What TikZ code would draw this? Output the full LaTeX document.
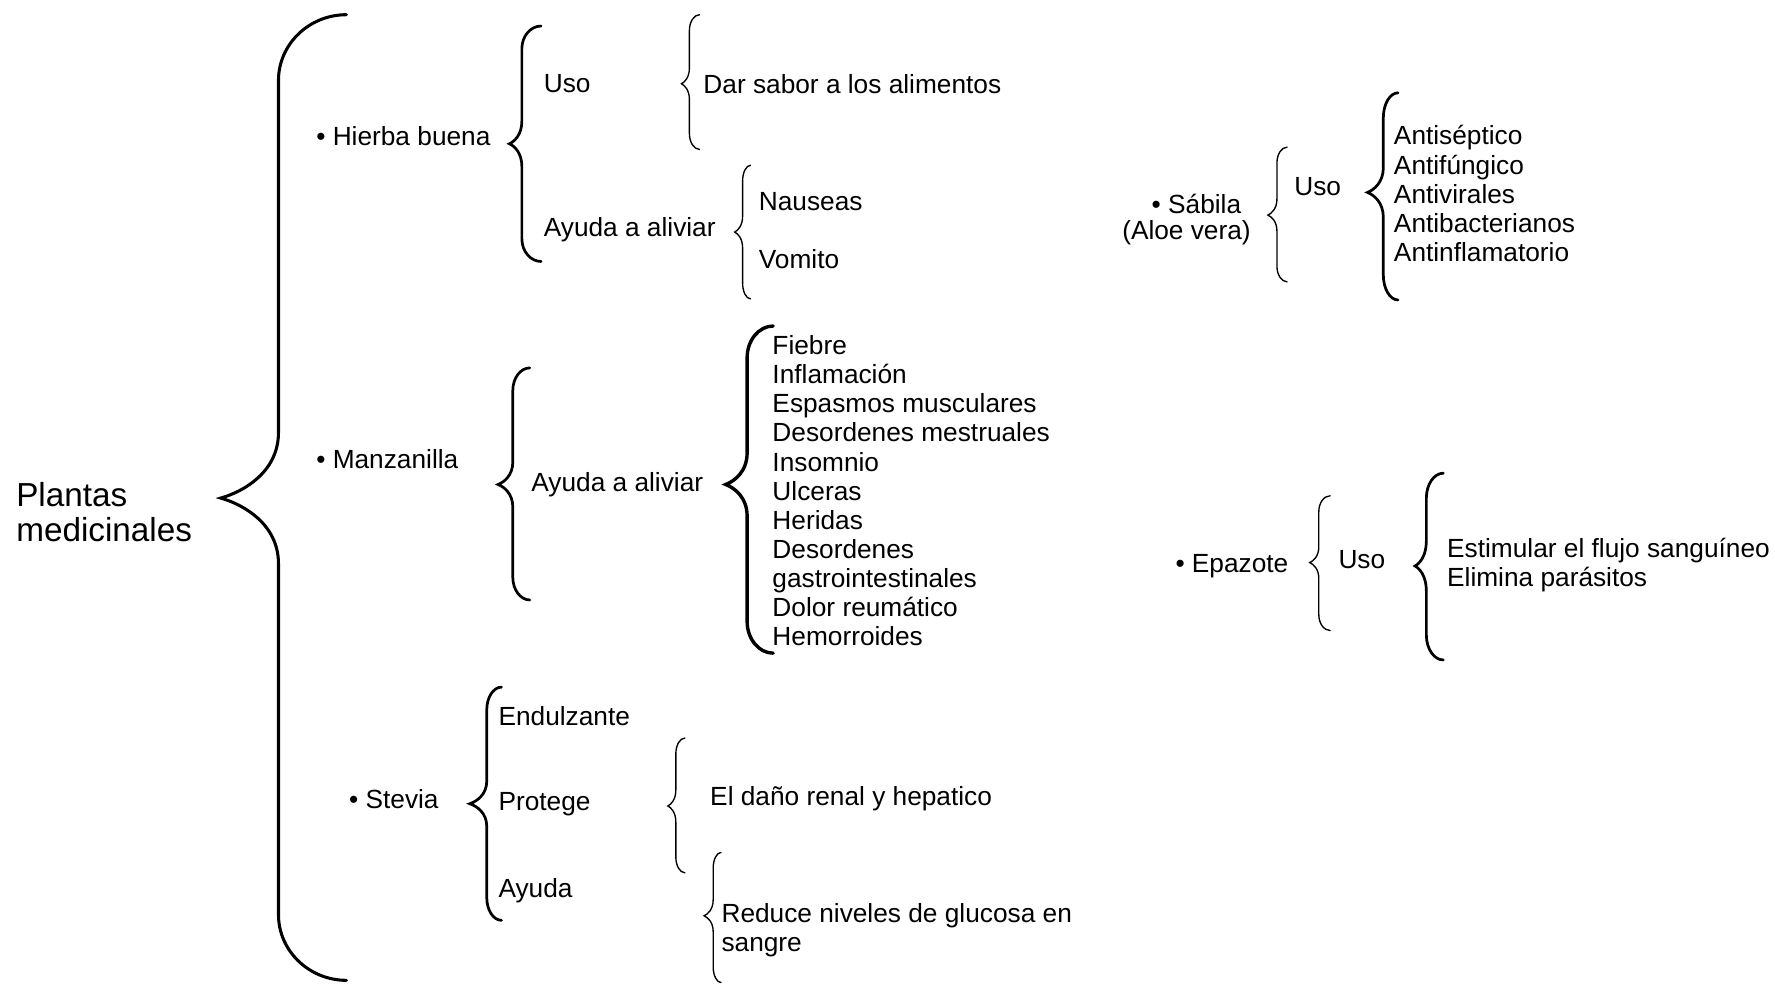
\documentclass[tikz,border=0pt]{standalone}
\usepackage{fontspec}
\setmainfont{Liberation Sans}
\usepackage{tikz}
\usetikzlibrary{positioning,calc}

% brace opening to the right: [style]{x end}{x line}{x tip}{y top}{y tip}{y bottom}{radius}
\newcommand{\llave}[8][]{%
  \draw[#1] (#2,#5) .. controls ({#3+0.45*(#2-#3)},#5) and (#3,{#5+0.45*#8}) .. (#3,{#5+#8})
    -- (#3,{#6-#8}) .. controls (#3,{#6-0.4*#8}) and ({#4+0.4*(#3-#4)},{#6-0.1*#8}) .. (#4,#6)
    .. controls ({#4+0.4*(#3-#4)},{#6+0.1*#8}) and (#3,{#6+0.4*#8}) .. (#3,{#6+#8})
    -- (#3,{#7-#8}) .. controls (#3,{#7-0.45*#8}) and ({#3+0.45*(#2-#3)},#7) .. (#2,#7);
}

\tikzset{
  txt/.style={inner sep=0pt, anchor=west, align=left, font=\fontsize{11.6}{12.85}\selectfont},
  titulo/.style={inner sep=0pt, anchor=west, align=left, font=\fontsize{14.7}{15.5}\selectfont},
  fina/.style={line width=0.6pt, line cap=round},
  gruesa/.style={line width=1.2pt, line cap=round},
}

\begin{document}
\begin{tikzpicture}[x=0.5pt, y=-0.5pt]
    \useasboundingbox (0,0) rectangle (1568,870);

    % Title
    \node[titulo] (plantas) at (14,452) {Plantas\\medicinales};
    \llave[gruesa, line width=1.35pt]{306}{246}{195}{13}{440}{866}{58}

    % Hierba buena
    \node[txt] (hierba) at (279,120) {• Hierba buena};
    \llave[gruesa]{478}{461}{450}{23}{127}{231}{20}
    \node[txt] (uso1) at (480,74) {Uso};
    \node[txt] (ayuda1) at (480,203) {Ayuda a aliviar};
    \llave[fina]{618}{609}{602}{13}{74}{132}{14}
    \node[txt] (sabor) at (621,74) {Dar sabor a los alimentos};
    \llave[fina]{663}{656}{649}{146}{205}{264}{14}
    \node[txt] (nauseas) at (670,178) {Nauseas};
    \node[txt] (vomito) at (670,229) {Vomito};

    % Manzanilla
    \node[txt] (manzanilla) at (279,406) {• Manzanilla};
    \llave[gruesa]{468}{453}{440}{325}{428}{530}{20}
    \node[txt] (ayuda2) at (469,428) {Ayuda a aliviar};
    \llave[gruesa, line width=1.5pt]{683}{660}{641}{288}{428}{577}{28}
    \node[txt] (males) at (682,433.5) {Fiebre\\Inflamación\\Espasmos musculares\\Desordenes mestruales\\Insomnio\\Ulceras\\Heridas\\Desordenes\\gastrointestinales\\Dolor reumático\\Hemorroides};

    % Stevia
    \node[txt] (stevia) at (308,706) {• Stevia};
    \llave[gruesa]{443}{430}{415}{607}{710}{813}{20}
    \node[txt] (endulzante) at (440,633) {Endulzante};
    \node[txt] (protege) at (440,710) {Protege};
    \node[txt] (ayuda3) at (440,787) {Ayuda};
    \llave[fina]{605}{597}{590}{652}{712}{771}{14}
    \node[txt] (dano) at (627,706) {El daño renal y hepatico};
    \llave[fina]{637}{630}{622}{753}{809}{868}{14}
    \node[txt] (glucosa) at (637,822) {Reduce niveles de glucosa en\\sangre};

    % Sabila
    \node[txt] (sabila) at (1017,180) {• Sábila};
    \node[txt] (aloe) at (991,206) {(Aloe vera)};
    \llave[fina]{1137}{1128}{1120}{130}{190}{249}{14}
    \node[txt] (uso2) at (1143,165) {Uso};
    \llave[gruesa]{1235}{1222}{1208}{82}{170}{265}{22}
    \node[txt] (anti) at (1231,171) {Antiséptico\\Antifúngico\\Antivirales\\Antibacterianos\\Antinflamatorio};

    % Epazote
    \node[txt] (epazote) at (1038,500) {• Epazote};
    \llave[fina]{1175}{1165}{1157}{438}{497}{557}{14}
    \node[txt] (uso3) at (1182,494) {Uso};
    \llave[gruesa]{1275}{1260}{1250}{418}{500}{583}{22}
    \node[txt] (flujo) at (1278,499) {Estimular el flujo sanguíneo\\Elimina parásitos};
\end{tikzpicture}
\end{document}
